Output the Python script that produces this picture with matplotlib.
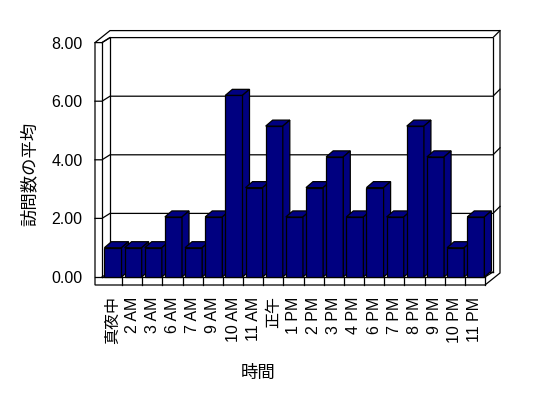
import matplotlib
matplotlib.use("Agg")
import matplotlib.pyplot as plt
from matplotlib.patches import Polygon

plt.rcParams['font.family'] = ['Liberation Sans', 'Noto Sans CJK JP']

# data
hours = ["真夜中", "2 AM", "3 AM", "6 AM", "7 AM", "9 AM", "10 AM", "11 AM", "正午",
         "1 PM", "2 PM", "3 PM", "4 PM", "6 PM", "7 PM", "8 PM", "9 PM", "10 PM", "11 PM"]
visits = [1.0, 1.0, 1.0, 2.05, 1.0, 2.05, 6.2, 3.05, 5.15,
          2.05, 3.05, 4.1, 2.05, 3.05, 2.05, 5.15, 4.1, 1.0, 2.05]
yticks = [0, 2, 4, 6, 8]
ytick_labels = ["0.00", "2.00", "4.00", "6.00", "8.00"]

n = len(hours)
ymax = 8

W, H = 548, 398
fig = plt.figure(figsize=(W / 100, H / 100), dpi=100)
fig.patch.set_facecolor("white")

# front plane of the 3d box, in pixels
left_px, right_px, zero_px, top_px = 102, 485, 277, 42.6
ax = fig.add_axes([left_px / W, 1 - zero_px / H,
                   (right_px - left_px) / W, (zero_px - top_px) / H])
ax.set_xlim(0, n)
ax.set_ylim(0, ymax)
ax.patch.set_visible(False)
for s in ax.spines.values():
  s.set_visible(False)

# pixel -> data unit helpers for the fake depth
ux = (right_px - left_px) / n
uy = (zero_px - top_px) / ymax
wall_t = 7 / ux
floor_t = 8 / uy
ddx, ddy = 8 / ux, 5 / uy      # depth of the plot box
bx, by = 7 / ux, 7 / uy        # thickness of the back wall
bdx, bdy = 7 / ux, 6 / uy      # depth of a column

lw = 0.9
k = dict(color="black", lw=lw, clip_on=False, zorder=2)

# outer outline of walls + floor
outline = [(-wall_t, -floor_t), (n, -floor_t),
           (n + ddx + bx, -floor_t + ddy + by), (n + ddx + bx, ymax + ddy + by),
           (-wall_t + ddx + bx, ymax + ddy + by), (-wall_t, ymax)]
ax.add_patch(Polygon(outline, closed=True, facecolor="white", edgecolor="black",
                     lw=lw, clip_on=False, zorder=1))

# inner edges
ax.plot([0, 0], [0, ymax], **k)
ax.plot([0, n], [0, 0], **k)
ax.plot([n, n], [-floor_t, 0], **k)
ax.plot([0, ddx], [0, ddy], **k)
ax.plot([ddx, ddx], [ddy, ymax + ddy], **k)
ax.plot([n + ddx, n + ddx], [ddy, ymax + ddy], **k)
ax.plot([ddx, n + ddx], [ddy, ddy], **k)
ax.plot([n, n + ddx], [0, ddy], **k)
ax.plot([0, ddx], [ymax, ymax + ddy], **k)

# gridlines running across side wall, back wall and its edge
for v in yticks[1:]:
  ax.plot([-wall_t, 0, ddx, n + ddx, n + ddx + bx],
          [v, v, v + ddy, v + ddy, v + ddy + by], **k)
ax.plot([-wall_t, 0], [0, 0], **k)

# category ticks on the floor front
for i in range(1, n):
  ax.plot([i, i], [-floor_t, 0], **k)

# columns
navy = "#000080"
for i, v in enumerate(visits):
  x0, x1 = i + 0.12, i + 0.97
  z = 3 + i
  ax.bar(x0, v, width=x1 - x0, align="edge", color=navy, edgecolor="black",
         lw=lw, zorder=z, clip_on=False)
  top = [(x0, v), (x1, v), (x1 + bdx, v + bdy), (x0 + bdx, v + bdy)]
  side = [(x1, 0), (x1, v), (x1 + bdx, v + bdy), (x1 + bdx, bdy)]
  for pts in (top, side):
    ax.add_patch(Polygon(pts, closed=True, facecolor=navy, edgecolor="black",
                         lw=lw, clip_on=False, zorder=z))

# ticks and labels
ax.set_yticks(yticks)
ax.set_yticklabels(ytick_labels, fontsize=11.5)
ax.set_xticks([i + 0.5 for i in range(n)])
ax.set_xticklabels(hours, rotation=90, fontsize=11.5, va="top")
ax.tick_params(axis="y", length=0, pad=14)
ax.tick_params(axis="x", length=0, pad=14)

fig.text(29 / W, 1 - 173.5 / H, "訪問数の平均", rotation=90, ha="center", va="center",
         fontsize=12.5)
fig.text(258 / W, 1 - 373 / H, "時間", ha="center", va="center", fontsize=12.5)

plt.savefig("out.png", dpi=100)
